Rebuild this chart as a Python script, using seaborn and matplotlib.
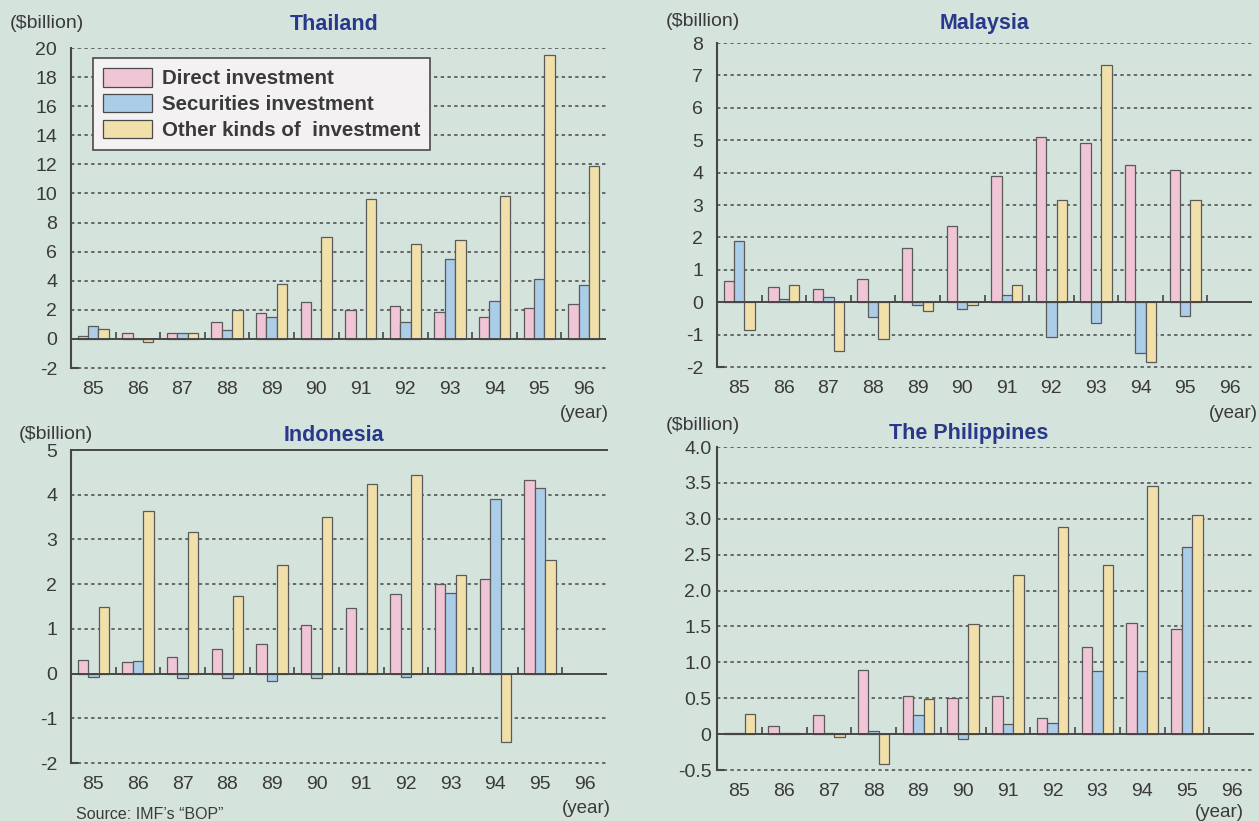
import seaborn as sns
import pandas as pd
import numpy as np
import matplotlib.pyplot as plt
from matplotlib.lines import Line2D

years = ['85', '86', '87', '88', '89', '90', '91', '92', '93', '94', '95', '96']
kinds = ['Direct investment', 'Securities investment', 'Other kinds of  investment']

# Thailand 85-96
thai_direct = [0.23, 0.4, 0.4, 1.14, 1.8, 2.57, 2.0, 2.27, 1.86, 1.48, 2.1, 2.43]
thai_securities = [0.9, 0.0, 0.4, 0.6, 1.5, 0.0, 0.0, 1.14, 5.5, 2.6, 4.1, 3.68]
thai_other = [0.7, -0.23, 0.4, 2.0, 3.75, 7.0, 9.64, 6.55, 6.8, 9.84, 19.55, 11.9]

# Malaysia 85-95
malay_direct = [0.66, 0.48, 0.42, 0.71, 1.66, 2.34, 3.9, 5.1, 4.91, 4.24, 4.08]
malay_securities = [1.88, 0.09, 0.15, -0.46, -0.1, -0.22, 0.23, -1.06, -0.63, -1.58, -0.44]
malay_other = [-0.85, 0.54, -1.5, -1.14, -0.28, -0.08, 0.53, 3.16, 7.33, -1.85, 3.16]

# Indonesia 85-95
indo_direct = [0.3, 0.25, 0.36, 0.55, 0.66, 1.08, 1.47, 1.78, 2.0, 2.12, 4.34]
indo_securities = [-0.08, 0.28, -0.1, -0.1, -0.17, -0.1, 0.01, -0.08, 1.8, 3.9, 4.14]
indo_other = [1.49, 3.63, 3.16, 1.73, 2.42, 3.51, 4.23, 4.44, 2.2, -1.53, 2.55]

# The Philippines 85-95
phil_direct = [0.01, 0.11, 0.26, 0.9, 0.53, 0.5, 0.53, 0.22, 1.21, 1.55, 1.46]
phil_securities = [0.01, 0.02, 0.01, 0.04, 0.27, -0.07, 0.14, 0.15, 0.88, 0.88, 2.61]
phil_other = [0.28, 0.01, -0.04, -0.42, 0.49, 1.53, 2.22, 2.88, 2.36, 3.45, 3.05]

thai_ticks = list(range(-2, 21, 2))
malay_ticks = list(range(-2, 9))
indo_ticks = list(range(-2, 6))
phil_ticks = [-0.5, 0, 0.5, 1.0, 1.5, 2.0, 2.5, 3.0, 3.5, 4.0]
phil_labels = ['-0.5', '0', '0.5', '1.0', '1.5', '2.0', '2.5', '3.0', '3.5', '4.0']

BG = '#d5e3dd'
TXT = '#3a3a3a'
LINE = '#464646'
TITLE = '#29398a'
palette = ['#f0c5d5', '#abcde7', '#f2e0ab']

W, H = 1259, 821


def long_frame(direct, securities, other):
    rows = []
    for y, d, s, o in zip(years, direct, securities, other):
        for kind, v in zip(kinds, (d, s, o)):
            rows.append((y, kind, v))
    return pd.DataFrame(rows, columns=['year', 'kind', 'value'])


def draw_panel(ax, df, yticks, ylabels=None, solid_top=False, ypad=10, legend=False):
    sns.barplot(data=df, x='year', y='value', hue='kind', order=years, hue_order=kinds,
                palette=palette, saturation=1, width=0.7, gap=0, errorbar=None,
                edgecolor='#5a5a5a', linewidth=0.9, legend=legend, ax=ax)
    lo, hi = yticks[0], yticks[-1]
    span = hi - lo
    ax.patch.set_alpha(0)
    for v in yticks[1:]:
        if v == 0:
            continue
        if v == hi and solid_top:
            continue
        ax.plot([-0.5, 11.5], [v, v], color=LINE, lw=1.1, ls=(0, (2.2, 2.2)), zorder=0.5)
    ax.axhline(0, color=LINE, lw=1.4, zorder=3)
    ax.vlines(np.arange(11) + 0.5, 0, 0.022 * span, color=LINE, lw=1.2, zorder=3)

    for side in ['right', 'bottom', 'top']:
        ax.spines[side].set_visible(False)
    ax.spines['left'].set_color(LINE)
    ax.spines['left'].set_linewidth(1.5)
    if solid_top:
        ax.spines['top'].set_visible(True)
        ax.spines['top'].set_color(LINE)
        ax.spines['top'].set_linewidth(1.4)

    ax.set_xlim(-0.5, 11.5)
    ax.set_ylim(lo, hi)
    ax.set_yticks(yticks)
    ax.set_yticklabels(ylabels if ylabels else [str(v) for v in yticks])
    ax.tick_params(axis='y', direction='in', length=8, width=1.5, color=LINE,
                   labelsize=14, labelcolor=TXT, pad=ypad)
    ax.tick_params(axis='x', length=0, labelsize=14, labelcolor=TXT, pad=9)
    ax.set_xlabel('')
    ax.set_ylabel('')

    # lowest gridline and its axis mark, added on the figure so nothing hides them
    fig.add_artist(Line2D([-0.5, 11.5], [lo, lo], transform=ax.transData, color=LINE,
                          lw=1.1, ls=(0, (2.2, 2.2)), zorder=6))
    fig.add_artist(Line2D([-0.5, -0.35], [lo, lo], transform=ax.transData, color=LINE,
                          lw=1.5, zorder=6))


sns.set_style('white')
plt.rcParams['font.family'] = ['Liberation Sans', 'DejaVu Sans']

fig = plt.figure(figsize=(W / 100, H / 100), dpi=100, facecolor=BG)

ax_thai = fig.add_axes([71 / W, 1 - 368 / H, 535 / W, 320 / H])
ax_malay = fig.add_axes([717 / W, 1 - 367 / H, 535 / W, 324 / H])
ax_indo = fig.add_axes([71 / W, 1 - 763 / H, 536 / W, 313 / H])
ax_phil = fig.add_axes([717 / W, 1 - 770 / H, 537 / W, 323 / H])

draw_panel(ax_thai, long_frame(thai_direct, thai_securities, thai_other), thai_ticks, legend=True)
draw_panel(ax_malay, long_frame(malay_direct, malay_securities, malay_other), malay_ticks)
draw_panel(ax_indo, long_frame(indo_direct, indo_securities, indo_other), indo_ticks, solid_top=True)
draw_panel(ax_phil, long_frame(phil_direct, phil_securities, phil_other), phil_ticks,
           ylabels=phil_labels, ypad=4)

handles, labels = ax_thai.get_legend_handles_labels()
ax_thai.get_legend().remove()
leg = ax_thai.legend(handles, labels, loc='upper left', bbox_to_anchor=(0.041, 0.969),
                     borderaxespad=0, frameon=True, fancybox=False, framealpha=1,
                     facecolor='#f3f1f1', edgecolor='#4a4a4a', handlelength=2.35,
                     handleheight=1.0, labelspacing=0.27, borderpad=0.5,
                     handletextpad=0.5, prop={'size': 14.8, 'weight': 'bold'})
leg.get_frame().set_linewidth(1.2)
for t in leg.get_texts():
    t.set_color(TXT)
for p in leg.get_patches():
    p.set_edgecolor('#4a4a4a')

# titles and unit labels
titles = [('Thailand', 334, 25), ('Malaysia', 985, 24), ('Indonesia', 334, 435),
          ('The Philippines', 969, 433)]
for name, x, y in titles:
    fig.text(x / W, 1 - y / H, name, ha='center', va='center', fontsize=15.5,
             fontweight='bold', color=TITLE)

for x, y in [(10, 23), (666, 22), (19, 434), (666, 425)]:
    fig.text(x / W, 1 - y / H, '(\\$billion)', ha='left', va='center', fontsize=14, color=TXT)

for x, y in [(609, 413), (1258, 413), (611, 808), (1244, 812)]:
    fig.text(x / W, 1 - y / H, '(year)', ha='right', va='center', fontsize=13.5, color=TXT)

fig.text(76 / W, 1 - 814 / H, 'Source: IMF\u2019s \u201cBOP\u201d', ha='left', va='center',
         fontsize=11.5, color=TXT)

fig.savefig('out.png', dpi=100, facecolor=BG)
